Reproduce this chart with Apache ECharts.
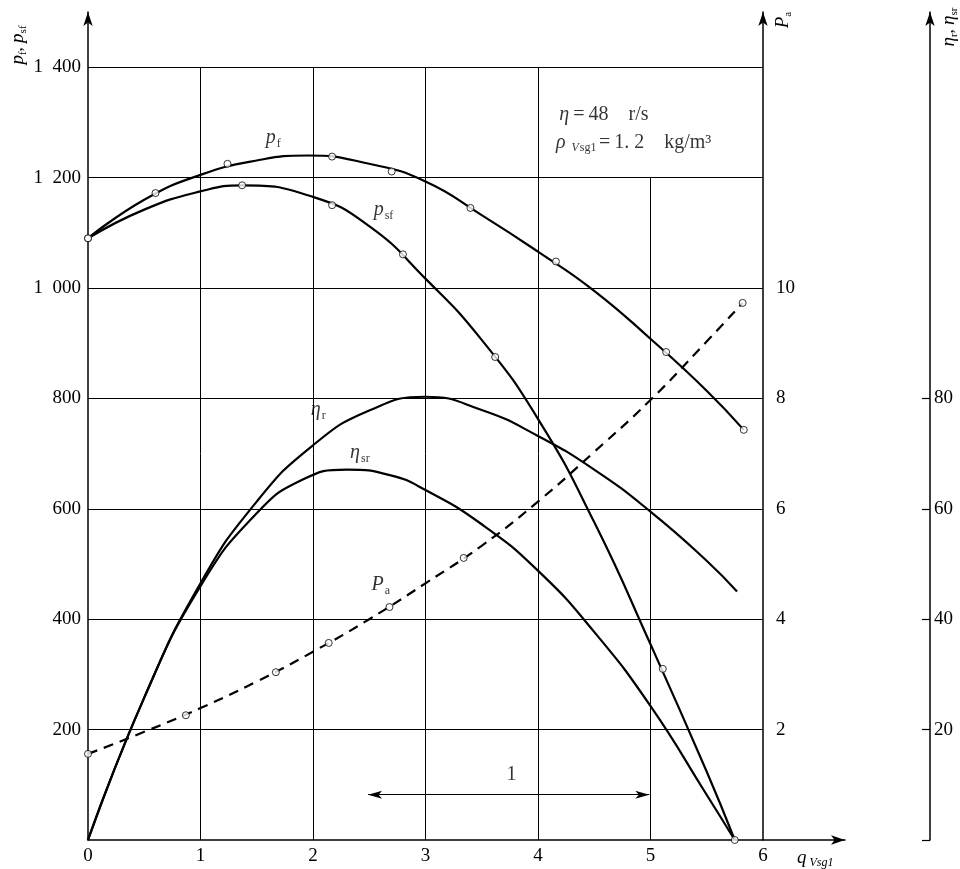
<!DOCTYPE html>
<html><head><meta charset="utf-8">
<script src="https://cdn.jsdelivr.net/npm/echarts@6/dist/echarts.min.js"></script>
<style>html,body{margin:0;padding:0;background:#fff}#c{width:960px;height:869px}</style>
</head><body><div id="c"></div>
<script>
// ---------- data ----------
const xTickLabels = [0, 1, 2, 3, 4, 5, 6];
const pTickLabels = [200, 400, 600, 800, 1000, 1200, 1400];
const paTickLabels = [2, 4, 6, 8, 10];
const etaTickLabels = [20, 40, 60, 80];
const etaTickMarks = [0, 20, 40, 60, 80];

// p_f (Pa): curve read along the drawn line, and the measured points (circles)
const pfCurve = [[0,1090],[0.5,1160],[1.0,1205],[1.5,1231],[1.95,1240],[2.5,1225],[3.0,1193],[3.5,1132],[4.0,1066],[4.5,995],[5.0,908],[5.5,814],[5.83,743]];
const pfPoints = [[0,1090],[0.6,1172],[1.24,1225],[2.17,1238],[2.7,1211],[3.4,1145],[4.16,1048],[5.14,884],[5.83,743]];

// p_sf (Pa)
const psfCurve = [[0,1090],[0.5,1142],[1.0,1175],[1.37,1186],[2.0,1165],[2.5,1112],[3.0,1017],[3.5,906],[4.0,763],[4.5,576],[5.0,355],[5.5,124],[5.75,0]];
const psfPoints = [[0,1090],[1.37,1186],[2.17,1150],[2.8,1061],[3.62,875],[5.11,310],[5.75,0]];

// eta_r, eta_sr (%)
const etaRCurve = [[0,0],[0.5,25.8],[1.0,46.5],[1.5,61.3],[2.0,71.5],[2.5,77.8],[3.0,80.3],[3.5,77.9],[4.0,73.2],[4.5,67.1],[5.0,59.5],[5.5,50.6],[5.77,45.0]];
const etaSrCurve = [[0,0],[0.5,25.8],[1.0,46.0],[1.5,59.2],[1.9,65.2],[2.3,67.1],[2.7,66.0],[3.0,63.4],[3.5,57.2],[4.0,48.8],[4.5,37.7],[5.0,24.3],[5.5,8.2],[5.75,0]];

// P_a (kW)
const paCurve = [[0,1.56],[0.5,1.96],[1.0,2.39],[1.5,2.87],[2.0,3.41],[2.5,4.0],[3.0,4.65],[3.5,5.33],[4.0,6.13],[4.5,7.03],[5.0,7.97],[5.5,9.03],[5.82,9.73]];
const paPoints = [[0,1.56],[0.87,2.26],[1.67,3.04],[2.14,3.57],[2.68,4.22],[3.34,5.11],[5.82,9.73]];

// grid lines (value units)
const hGridValues = [200, 400, 600, 800, 1000, 1200, 1400];
const vGridValues = [1, 2, 3, 4, 5];
const vGridTops = [1400, 1400, 1400, 1400, 1200];
const dimArrow = [[2.49, 82], [4.99, 82]];

// in-plot texts (anchored in data coordinates: q, p)
const notes = [
  {at:[1.58,1272], text:'{i|p}{s|f}'},
  {at:[2.54,1141], text:'{i|p}{s|sf}'},
  {at:[1.98,779],  text:'{i|η}{s|r}'},
  {at:[2.33,701],  text:'{i|η}{s|sr}'},
  {at:[2.52,462],  text:'{i|P}{s|a}'},
  {at:[4.19,1313], text:'{i|η}{n|\u2009=\u200948\u2002\u2002r/s}'},
  {at:[4.16,1264], text:'{i|ρ}{v|\u2002V}{s|sg1\u2009}{n|=\u20091. 2\u2002\u2002kg/m³}'},
  {at:[3.72,118],  text:'{n|1}'}
];

// ---------- chart ----------
const FONT = '"Liberation Serif","DejaVu Serif",serif';
const K = '#000';
const chart = echarts.init(document.getElementById('c'));

const gridLines = [];
hGridValues.forEach(v => gridLines.push([{coord:[0, v]}, {coord:[6, v]}]));
vGridValues.forEach((q, i) => gridLines.push([{coord:[q, 0]}, {coord:[q, vGridTops[i]]}]));

const richLabel = {
  i:{fontFamily:FONT, fontStyle:'italic', fontSize:20, color:K, verticalAlign:'middle', lineHeight:26},
  s:{fontFamily:FONT, fontSize:12, color:K, verticalAlign:'bottom', lineHeight:26, padding:[0,0,1,1]},
  v:{fontFamily:FONT, fontStyle:'italic', fontSize:12, color:K, verticalAlign:'bottom', lineHeight:26, padding:[0,0,1,0]},
  n:{fontFamily:FONT, fontSize:20, color:K, verticalAlign:'middle', lineHeight:26}
};

function curve(data, yIdx, dashed) {
  return {type:'line', data, yAxisIndex:yIdx, smooth:true, symbol:'none', showSymbol:false,
    lineStyle:{color:K, width:2.2, type: dashed ? [10,7] : 'solid'}, z:3, silent:true, animation:false};
}
function marks(data, yIdx) {
  return {type:'scatter', data, yAxisIndex:yIdx, symbol:'circle', symbolSize:7,
    itemStyle:{color:'#fff', borderColor:K, borderWidth:1}, z:6, silent:true, animation:false};
}

const base = curve(pfCurve, 0, false);
base.markLine = {silent:true, symbol:['none','none'], label:{show:false}, animation:false,
  lineStyle:{color:K, width:1, type:'solid'}, emphasis:{disabled:true}, data: gridLines};

const arrowSeries = {type:'line', data:[], yAxisIndex:0, silent:true, animation:false,
  markLine:{silent:true, symbol:['arrow','arrow'], symbolSize:[6,14], label:{show:false}, animation:false,
    lineStyle:{color:K, width:1, type:'solid'}, emphasis:{disabled:true},
    data:[[{coord:dimArrow[0]}, {coord:dimArrow[1]}]]}};

const noteSeries = {type:'scatter', yAxisIndex:0, symbolSize:0, silent:true, animation:false, clip:false, z:7,
  data: notes.map(n => ({value:n.at, label:{formatter:n.text}})),
  label:{show:true, position:'right', distance:0, rich:richLabel}};

const fmtThousands = v => v >= 1000 ? String(Math.floor(v/1000)) + '\u2002' + String(v % 1000).padStart(3,'0') : String(v);
const tickFont = {color:K, fontFamily:FONT, fontSize:19};

chart.setOption({
  backgroundColor:'#fff',
  animation:false,
  grid:{left:88, right:115, top:12, bottom:29, containLabel:false},
  xAxis:{type:'value', min:0, max:6.73, interval:1,
    axisLine:{show:true, onZero:false, symbol:['none','arrow'], symbolSize:[7,14], lineStyle:{color:K, width:1.5}},
    axisTick:{show:false}, splitLine:{show:false},
    axisLabel:Object.assign({customValues:xTickLabels, margin:7,
      formatter: v => xTickLabels.includes(v) ? String(v) : ''}, tickFont)},
  yAxis:[
    {type:'value', position:'left', min:0, max:1500, interval:100,
      axisLine:{show:true, onZero:false, symbol:['none','arrow'], symbolSize:[7,14], lineStyle:{color:K, width:1.5}},
      axisTick:{show:false}, splitLine:{show:false},
      axisLabel:Object.assign({customValues:pTickLabels, margin:7,
        formatter: v => pTickLabels.includes(v) ? fmtThousands(v) : ''}, tickFont)},
    {type:'value', position:'right', offset:-82, min:0, max:15, interval:1,
      axisLine:{show:true, onZero:false, symbol:['none','arrow'], symbolSize:[7,14], lineStyle:{color:K, width:1.5}},
      axisTick:{show:false}, splitLine:{show:false},
      axisLabel:Object.assign({customValues:paTickLabels, margin:13,
        formatter: v => paTickLabels.includes(v) ? String(v) : ''}, tickFont)},
    {type:'value', position:'right', offset:85, min:0, max:150, interval:10,
      axisLine:{show:true, onZero:false, symbol:['none','arrow'], symbolSize:[7,14], lineStyle:{color:K, width:1.5}},
      axisTick:{show:true, inside:true, length:8, customValues:etaTickMarks, lineStyle:{color:K, width:1.2}},
      splitLine:{show:false},
      axisLabel:Object.assign({customValues:etaTickLabels, margin:4,
        formatter: v => etaTickLabels.includes(v) ? String(v) : ''}, tickFont)}
  ],
  graphic:[
    {type:'text', x:18, y:45, rotation:Math.PI/2, silent:true,
      style:{text:'{i|p}{s|f}{n|, }{i|p}{s|sf}', align:'center', verticalAlign:'middle',
        rich:{i:{fontFamily:FONT, fontStyle:'italic', fontSize:19, fill:K, verticalAlign:'middle', lineHeight:22},
              s:{fontFamily:FONT, fontSize:11, fill:K, verticalAlign:'bottom', lineHeight:22},
              n:{fontFamily:FONT, fontSize:17, fill:K, verticalAlign:'middle', lineHeight:22}}}},
    {type:'text', x:783, y:20, rotation:Math.PI/2, silent:true,
      style:{text:'{i|P}{s|a}', align:'center', verticalAlign:'middle',
        rich:{i:{fontFamily:FONT, fontStyle:'italic', fontSize:19, fill:K, verticalAlign:'middle', lineHeight:22},
              s:{fontFamily:FONT, fontSize:11, fill:K, verticalAlign:'bottom', lineHeight:22}}}},
    {type:'text', x:949, y:27, rotation:Math.PI/2, silent:true,
      style:{text:'{i|η}{s|r}{n|, }{i|η}{s|sr}', align:'center', verticalAlign:'middle',
        rich:{i:{fontFamily:FONT, fontStyle:'italic', fontSize:19, fill:K, verticalAlign:'middle', lineHeight:22},
              s:{fontFamily:FONT, fontSize:11, fill:K, verticalAlign:'bottom', lineHeight:22},
              n:{fontFamily:FONT, fontSize:17, fill:K, verticalAlign:'middle', lineHeight:22}}}},
    {type:'text', x:797, y:858, silent:true,
      style:{text:'{i|q}{s|Vsg1}', align:'left', verticalAlign:'middle',
        rich:{i:{fontFamily:FONT, fontStyle:'italic', fontSize:19, fill:K, verticalAlign:'middle', lineHeight:22},
              s:{fontFamily:FONT, fontStyle:'italic', fontSize:12, fill:K, verticalAlign:'bottom', lineHeight:22, padding:[0,0,0,3]}}}}
  ],
  series:[
    base,
    marks(pfPoints, 0),
    curve(psfCurve, 0, false),
    marks(psfPoints, 0),
    curve(etaRCurve, 2, false),
    curve(etaSrCurve, 2, false),
    curve(paCurve, 1, true),
    marks(paPoints, 1),
    arrowSeries,
    noteSeries
  ]
});
</script></body></html>
